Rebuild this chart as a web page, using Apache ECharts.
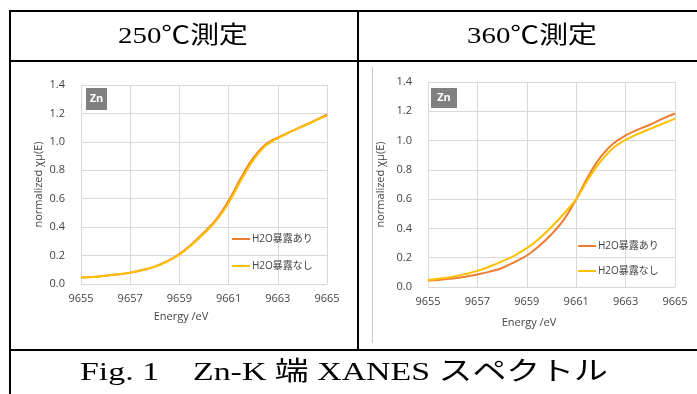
<!DOCTYPE html>
<html>
<head>
<meta charset="utf-8">
<script src="https://cdn.jsdelivr.net/npm/echarts@6/dist/echarts.min.js"></script>
<style>html,body{margin:0;padding:0;background:#fff;}#c{width:697px;height:394px;}</style>
</head>
<body>
<div id="c"></div>
<script>
// ---- data ----
const energy = [9655, 9655.5, 9656, 9656.5, 9657, 9657.5, 9658, 9658.5, 9659, 9659.5, 9660,
                9660.5, 9661, 9661.5, 9662, 9662.5, 9663, 9663.5, 9664, 9664.5, 9665];
const ari250   = [0.045,0.050,0.058,0.068,0.080,0.098,0.122,0.160,0.210,0.280,0.362,0.455,0.585,0.745,0.885,0.982,1.030,1.070,1.110,1.150,1.192];
const nashi250 = [0.045,0.050,0.058,0.068,0.080,0.098,0.121,0.158,0.207,0.275,0.355,0.445,0.570,0.728,0.870,0.972,1.025,1.068,1.108,1.147,1.185];
const ari360   = [0.045,0.050,0.058,0.070,0.085,0.105,0.130,0.170,0.215,0.280,0.360,0.460,0.600,0.760,0.890,0.980,1.035,1.075,1.110,1.150,1.185];
const nashi360 = [0.048,0.058,0.070,0.088,0.110,0.140,0.175,0.215,0.265,0.330,0.410,0.500,0.600,0.740,0.860,0.950,1.005,1.045,1.080,1.115,1.150];
const seriesNames = ['H2O暴露あり', 'H2O暴露なし'];
const xTickLabels = ['9655', '9657', '9659', '9661', '9663', '9665'];
const yTickLabels = ['0.0', '0.2', '0.4', '0.6', '0.8', '1.0', '1.2', '1.4'];
const headers = ['250℃測定', '360℃測定'];
const caption = 'Fig. 1\u3000Zn-K 端 XANES スペクトル';
const badge = 'Zn';
const xName = 'Energy /eV';
const yName = 'normalized χμ(E)';

// ---- layout helpers ----
const E0 = Number(xTickLabels[0]);
const toPairs = (ys) => energy.map((e, i) => [e - E0, ys[i]]);
const serifFont = "'Liberation Serif','Noto Sans CJK JP'";
const sansFont = "'Open Sans','Noto Sans CJK JP'";
const cv = document.createElement('canvas').getContext('2d');
function measure(txt, size) { cv.font = size + 'px ' + serifFont; return cv.measureText(txt).width; }

const chart = echarts.init(document.getElementById('c'), null, {renderer: 'canvas'});
const labelColor = '#444444';
const gridColor = '#d9d9d9';
const ORANGE = '#ED7D31', YELLOW = '#FFC000';

function xAxis(gridIndex, gap, shift) {
  return {
    type: 'value', gridIndex, min: 0, max: 10, interval: 2,
    axisLine: {show: false}, axisTick: {show: false},
    splitLine: {show: true, lineStyle: {color: gridColor, width: 1}},
    axisLabel: {color: labelColor, fontSize: 11, fontFamily: sansFont, margin: 9,
      formatter: (v, i) => xTickLabels[Math.round(v / 2)]},
    name: xName, nameLocation: 'middle', nameGap: gap,
    nameTextStyle: {color: labelColor, fontSize: 11, fontFamily: sansFont, padding: [0, shift, 0, 0]}
  };
}
function yAxis(gridIndex, gap) {
  return {
    type: 'value', gridIndex, min: 0, max: 1.4, interval: 0.2,
    axisLine: {show: false}, axisTick: {show: false},
    splitLine: {show: true, lineStyle: {color: gridColor, width: 1}},
    axisLabel: {color: labelColor, fontSize: 11, fontFamily: sansFont, margin: 16,
      formatter: (v) => yTickLabels[Math.round(v / 0.2)]},
    name: yName, nameLocation: 'middle', nameGap: gap, nameRotate: 90,
    nameTextStyle: {color: labelColor, fontSize: 11, fontFamily: sansFont}
  };
}
function line(name, data, idx, color) {
  return {type: 'line', name, data, xAxisIndex: idx, yAxisIndex: idx, smooth: 0.4,
    symbol: 'none', lineStyle: {color, width: 2}, itemStyle: {color}, z: color === YELLOW ? 3 : 2};
}
function legend(name, left, top, color) {
  return {data: [name], orient: 'vertical', left, top, icon: 'rect', itemWidth: 18, itemHeight: 2,
    itemGap: 0, selectedMode: false,
    textStyle: {color: labelColor, fontSize: 10, fontFamily: sansFont, padding: [0, 0, 0, -3]}};
}

const hSize = 24;
const hScale = 130 / measure(headers[0], hSize);
const cSize = 26;
const cScale = 528 / measure(caption, cSize);

const black = {stroke: '#000', lineWidth: 2};
const graphics = [
  {type: 'line', shape: {x1: 9, y1: 11, x2: 697, y2: 11}, style: black},
  {type: 'line', shape: {x1: 9, y1: 61, x2: 697, y2: 61}, style: black},
  {type: 'line', shape: {x1: 9, y1: 350, x2: 697, y2: 350}, style: black},
  {type: 'line', shape: {x1: 10, y1: 10, x2: 10, y2: 394}, style: black},
  {type: 'line', shape: {x1: 358, y1: 10, x2: 358, y2: 351}, style: black},
  {type: 'line', shape: {x1: 372.5, y1: 67, x2: 372.5, y2: 343}, style: {stroke: '#c8c8c8', lineWidth: 1}},
  {type: 'rect', shape: {x: 86, y: 88, width: 21, height: 22}, style: {fill: '#808080'}},
  {type: 'rect', shape: {x: 431, y: 88, width: 26, height: 20}, style: {fill: '#808080'}},
  {type: 'text', x: 96.5, y: 99, style: {text: badge, fill: '#fff', font: 'bold 11px ' + sansFont, textAlign: 'center', textVerticalAlign: 'middle'}},
  {type: 'text', x: 444, y: 98, style: {text: badge, fill: '#fff', font: 'bold 11px ' + sansFont, textAlign: 'center', textVerticalAlign: 'middle'}},
  {type: 'text', x: 183, y: 37, scaleX: hScale, style: {text: headers[0], fill: '#000', font: hSize + 'px ' + serifFont, textAlign: 'center', textVerticalAlign: 'middle'}},
  {type: 'text', x: 532, y: 37, scaleX: hScale, style: {text: headers[1], fill: '#000', font: hSize + 'px ' + serifFont, textAlign: 'center', textVerticalAlign: 'middle'}},
  {type: 'text', x: 344, y: 373, scaleX: cScale, style: {text: caption, fill: '#000', font: cSize + 'px ' + serifFont, textAlign: 'center', textVerticalAlign: 'middle'}}
];

chart.setOption({
  animation: false,
  backgroundColor: '#fff',
  grid: [
    {left: 81, top: 85, width: 246, height: 199, outerBoundsMode: 'none', containLabel: false},
    {left: 428, top: 82, width: 247, height: 205, outerBoundsMode: 'none', containLabel: false}
  ],
  xAxis: [xAxis(0, 27, 46), xAxis(1, 30, 45)],
  yAxis: [yAxis(0, 37), yAxis(1, 42)],
  legend: [
    legend(seriesNames[0], 227, 229),
    legend(seriesNames[1], 227, 256),
    legend(seriesNames[0], 573, 236),
    legend(seriesNames[1], 573, 261)
  ],
  series: [
    line(seriesNames[0], toPairs(ari250), 0, ORANGE),
    line(seriesNames[1], toPairs(nashi250), 0, YELLOW),
    line(seriesNames[0], toPairs(ari360), 1, ORANGE),
    line(seriesNames[1], toPairs(nashi360), 1, YELLOW)
  ],
  graphic: graphics
});
</script>
</body>
</html>
